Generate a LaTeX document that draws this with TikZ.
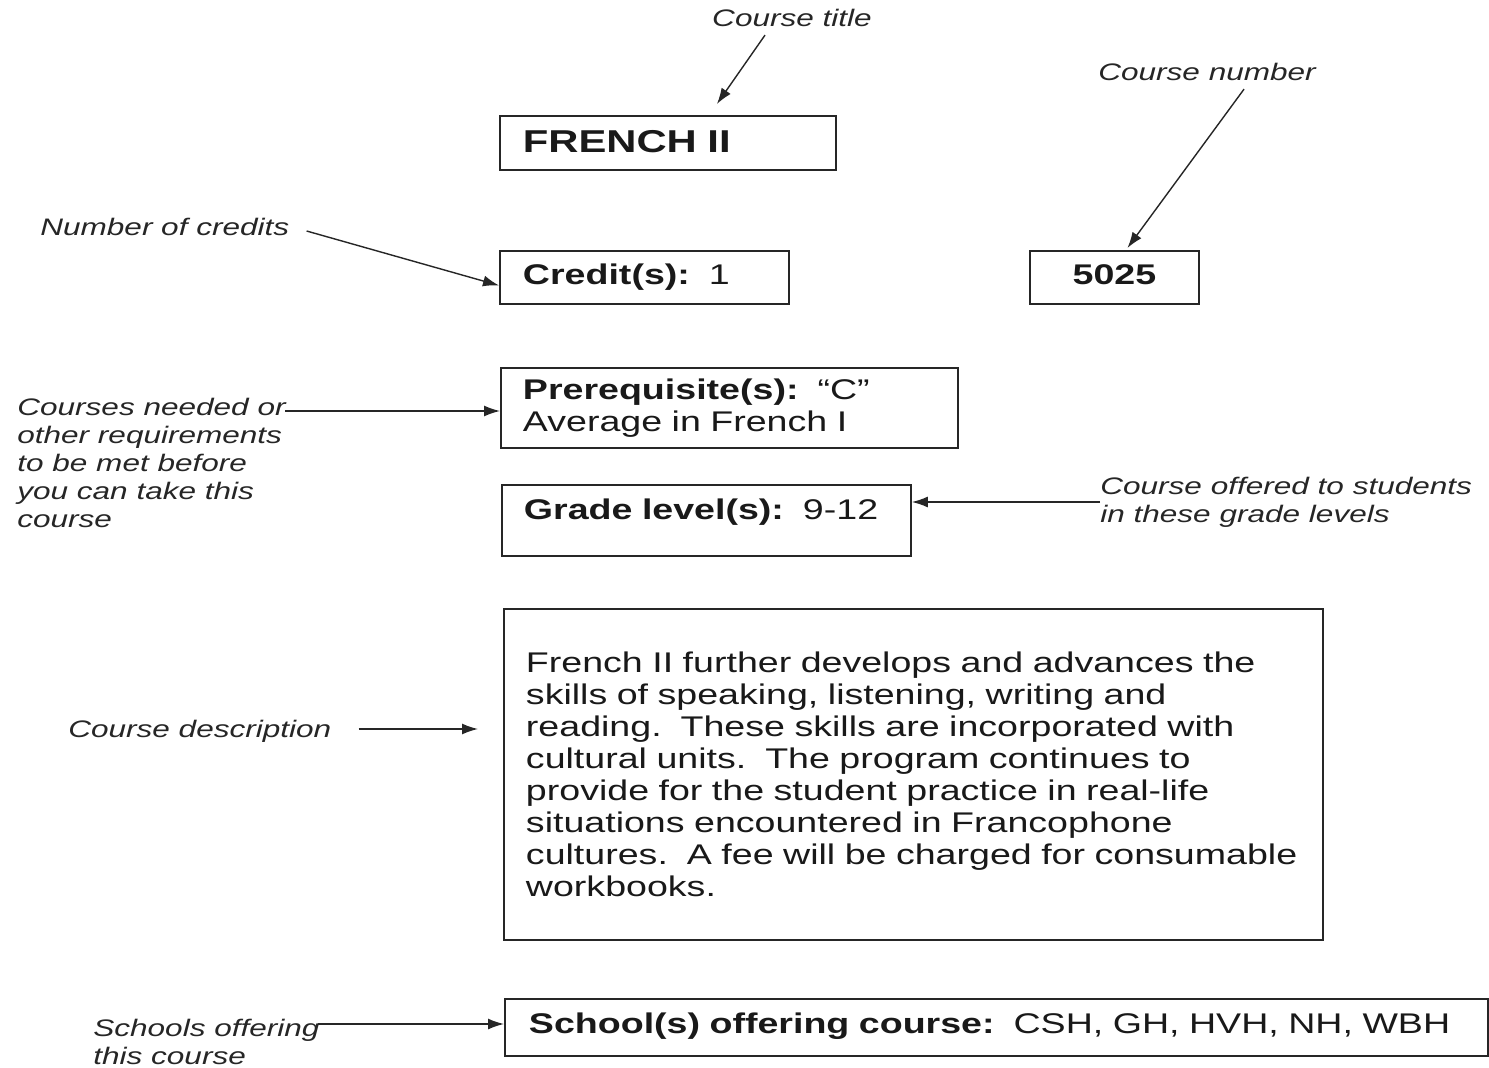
\documentclass[tikz,border=0pt]{standalone}
\usepackage{fontspec}
\setmainfont[FakeStretch=1.32]{Liberation Sans}
\usetikzlibrary{calc}
\usetikzlibrary{arrows.meta}

\begin{document}
\begin{tikzpicture}[x=0.02cm, y=-0.02cm,
  box/.style={draw=black!85, line width=1.1pt, anchor=north west, inner ysep=0pt,
    align=left, text=black!90, font=\fontsize{16.2}{18.2}\selectfont},
  note/.style={inner sep=0pt, align=left, text=black!85,
    font=\itshape\fontsize{13.6}{15.9}\selectfont},
  pointer/.style={draw=black!85, line width=0.8pt, -{Latex[length=0.32cm,width=0.22cm]}}]

\useasboundingbox (0,0) rectangle (1489,1068);

% boxes of the course entry
\node[box, inner xsep=0.46cm, text width=5.80cm, text height=0.74cm, text depth=0.34cm,
  font=\bfseries\fontsize{18}{20}\selectfont] (french) at (499,115) {FRENCH II};
\node[box, inner xsep=0.46cm, text width=4.86cm, text height=0.68cm, text depth=0.38cm] (credit) at (499,250) {\textbf{Credit(s):}\ \ 1};
\node[box, inner xsep=0.2cm, text width=2.98cm, align=center, text height=0.68cm, text depth=0.38cm] (number) at (1029,250) {\textbf{5025}};
\node[box, inner xsep=0.44cm, text width=8.26cm, minimum height=1.6cm] (prereq) at (500,367) {\textbf{Prerequisite(s):}\ \ “C”\\Average in French I};
\node[box, inner xsep=0.44cm, text width=7.30cm, text height=0.70cm, text depth=0.72cm] (grade) at (501,484) {\textbf{Grade level(s):}\ \ 9-12};
\node[box, inner xsep=0.44cm, text width=15.50cm, minimum height=6.62cm] (desc) at (503,608) {French II further develops and advances the\\
skills of speaking, listening, writing and\\
reading.\ \ These skills are incorporated with\\
cultural units.\ \ The program continues to\\
provide for the student practice in real-life\\
situations encountered in Francophone\\
cultures.\ \ A fee will be charged for consumable\\
workbooks.};
\node[box, inner xsep=0.48cm, text width=18.70cm, text height=0.70cm, text depth=0.44cm] (school) at (504,998) {\textbf{School(s) offering course:}\ \ CSH, GH, HVH, NH, WBH};

% notes
\node[note] (ttl) at (792,18) {Course title};
\node[note, anchor=west] (numlbl) at (1098,72) {Course number};
\node[note, anchor=west] (credlbl) at (40,227) {Number of credits};
\node[note, anchor=west] (needlbl) at (17,463) {Courses needed or\\other requirements\\to be met before\\you can take this\\course};
\node[note, anchor=west] (gradelbl) at (1100,502) {Course offered to students\\in these grade levels};
\node[note, anchor=west] (desclbl) at (68,731) {Course description};
\node[note, anchor=west] (schlbl) at (93,1042) {Schools offering\\this course};

\coordinate (needs) at (285,411);
\coordinate (offers) at (318,1024);

% pointers
\draw[pointer] ([shift={(-27,8)}]ttl.south) -- ([shift={(49,-11)}]french.north);
\draw[pointer] ([shift={(37,8)}]numlbl.south) -- ([shift={(13,-2)}]number.north);
\draw[pointer] ([shift={(17,4)}]credlbl.east) -- ([shift={(0,8)}]credit.west);
\draw[pointer] (needs) -- (needs -| prereq.west);
\draw[pointer] (gradelbl.west) -- (gradelbl.west -| grade.east);
\draw[pointer] ([shift={(27,-2)}]desclbl.east) -- ($(desclbl.east -| desc.west)+(-25,-2)$);
\draw[pointer] (offers) -- (offers -| school.west);

\end{tikzpicture}
\end{document}
